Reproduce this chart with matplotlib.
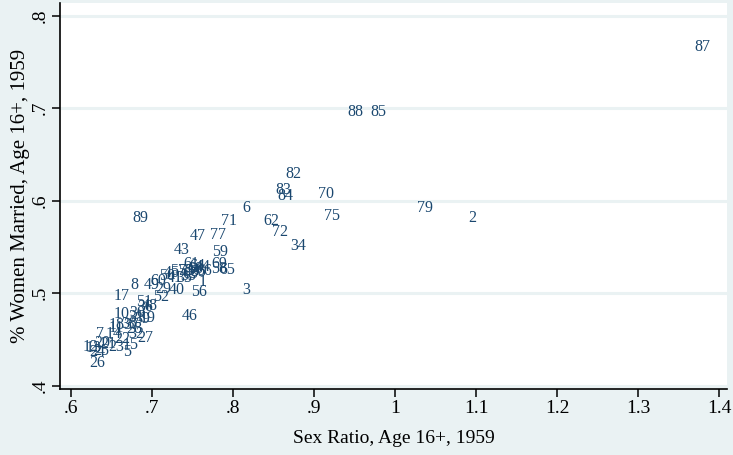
import matplotlib
matplotlib.use("Agg")
import matplotlib.pyplot as plt

# marker labels and coordinates (sex ratio, % women married)
labels = [87, 88, 85, 82, 83, 84, 70, 75, 79, 2, 89, 6, 71, 62, 72, 34,
          47, 77, 43, 59, 69, 58, 65, 3, 56, 40, 1, 46, 17, 8, 52, 49, 60, 29,
          61, 64, 44, 53, 54, 55, 63, 66, 57, 45, 35, 33, 68, 50, 41,
          51, 48, 10, 30, 31, 19, 39, 36, 18, 11, 38, 28, 14, 32, 7, 27, 37,
          20, 12, 13, 25, 24, 23, 15, 5, 26, 21, 22]
sex_ratio = [1.379, 0.951, 0.979, 0.874, 0.862, 0.865, 0.915, 0.922, 1.037, 1.095,
             0.686, 0.816, 0.795, 0.847, 0.858, 0.881,
             0.756, 0.781, 0.737, 0.784, 0.783, 0.783, 0.793, 0.816, 0.758, 0.730,
             0.763, 0.746, 0.662, 0.678, 0.711, 0.700, 0.708, 0.714,
             0.749, 0.756, 0.763, 0.742, 0.750, 0.757, 0.747, 0.764, 0.732, 0.724,
             0.740, 0.745, 0.753, 0.719, 0.728,
             0.690, 0.697, 0.662, 0.682, 0.680, 0.695, 0.688, 0.692, 0.656, 0.656,
             0.672, 0.678, 0.653, 0.680, 0.636, 0.692, 0.674,
             0.638, 0.624, 0.628, 0.637, 0.633, 0.656, 0.673, 0.669, 0.632, 0.646, 0.663]
married = [0.766, 0.696, 0.696, 0.629, 0.611, 0.605, 0.607, 0.583, 0.592, 0.581,
           0.581, 0.592, 0.578, 0.578, 0.566, 0.551,
           0.562, 0.563, 0.547, 0.545, 0.532, 0.526, 0.525, 0.503, 0.501, 0.503,
           0.512, 0.475, 0.497, 0.509, 0.496, 0.509, 0.513, 0.504,
           0.531, 0.529, 0.528, 0.524, 0.524, 0.523, 0.521, 0.524, 0.524, 0.522,
           0.516, 0.519, 0.526, 0.519, 0.516,
           0.490, 0.486, 0.477, 0.479, 0.474, 0.473, 0.472, 0.485, 0.466, 0.462,
           0.467, 0.461, 0.456, 0.456, 0.456, 0.451, 0.466,
           0.446, 0.442, 0.441, 0.438, 0.436, 0.442, 0.444, 0.436, 0.424, 0.445, 0.450]

x_ticks = [0.6, 0.7, 0.8, 0.9, 1.0, 1.1, 1.2, 1.3, 1.4]
x_ticklabels = [".6", ".7", ".8", ".9", "1", "1.1", "1.2", "1.3", "1.4"]
y_ticks = [0.4, 0.5, 0.6, 0.7, 0.8]
y_ticklabels = [".4", ".5", ".6", ".7", ".8"]

BG = "#eaf2f3"
NAVY = "#1a476f"
SERIF = ["Liberation Serif", "DejaVu Serif"]

fig = plt.figure(figsize=(7.33, 4.55), dpi=100, facecolor=BG)
W, H = 733, 455
ax = fig.add_axes([60 / W, (H - 389) / H, (727 - 60) / W, (389 - 3) / H])
ax.set_facecolor("white")

ax.set_xlim(0.5864, 1.4099)
ax.set_ylim(0.3964, 0.8137)

for yt in y_ticks:
    ax.axhline(yt, color=BG, lw=2.2, zorder=0)

for lab, xv, yv in zip(labels, sex_ratio, married):
    ax.text(xv, yv, str(lab), ha="center", va="center", color=NAVY,
            fontsize=11.5, family=SERIF, zorder=3)

for s in ["top", "right"]:
    ax.spines[s].set_visible(False)
for s in ["left", "bottom"]:
    ax.spines[s].set_linewidth(1.2)
    ax.spines[s].set_color("black")

ax.set_xticks(x_ticks)
ax.set_xticklabels(x_ticklabels, family=SERIF, fontsize=14)
ax.set_yticks(y_ticks)
ax.set_yticklabels(y_ticklabels, family=SERIF, fontsize=14, rotation=90, va="center")
ax.tick_params(axis="both", direction="out", length=6, width=1.1, color="black", pad=2)

ax.set_xlabel("Sex Ratio, Age 16+, 1959", family=SERIF, fontsize=14, labelpad=9)
ax.set_ylabel("% Women Married, Age 16+, 1959", family=SERIF, fontsize=15, labelpad=1.5)

fig.savefig("out.png", dpi=100, facecolor=BG)
